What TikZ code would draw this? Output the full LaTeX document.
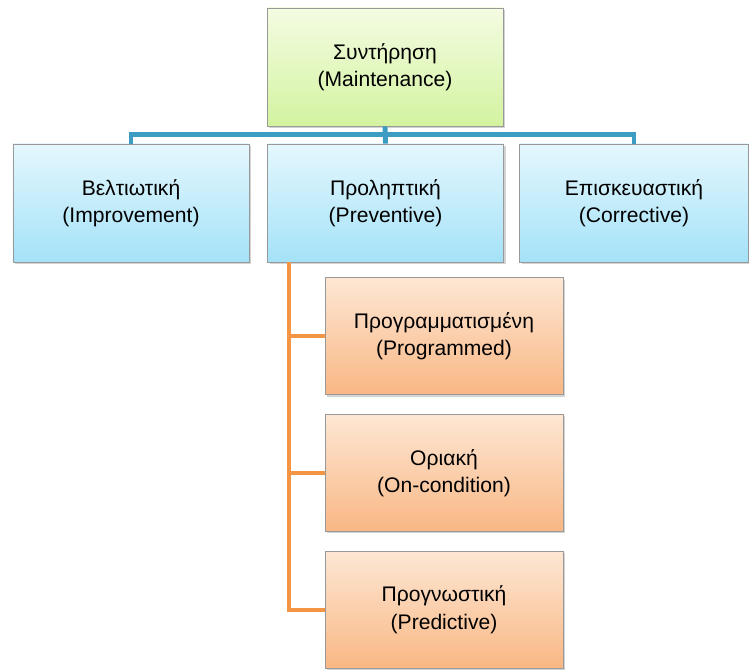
\documentclass[tikz,border=0pt]{standalone}
\usepackage{fontspec}
\setmainfont{Liberation Sans}
\usepackage{xcolor}
\usetikzlibrary{positioning, shadows, calc}

\definecolor{greentop}{HTML}{F4FCE2}
\definecolor{greenbot}{HTML}{D3F3A0}
\definecolor{bluetop}{HTML}{E4F7FD}
\definecolor{bluebot}{HTML}{A4E2F8}
\definecolor{orangetop}{HTML}{FDE7D4}
\definecolor{orangebot}{HTML}{F9B784}
\definecolor{busblue}{HTML}{3C9CC2}
\definecolor{busorange}{HTML}{F39543}

\begin{document}
\begin{tikzpicture}[
  block/.style={rectangle, draw=black!40, line width=0.5pt,
    minimum width=4.72cm, minimum height=2.36cm, align=center,
    font=\fontsize{12}{15.5}\selectfont, inner sep=2pt,
    drop shadow={shadow xshift=1.2pt, shadow yshift=-1.2pt, opacity=0.35}},
  rootbox/.style={block, top color=greentop, bottom color=greenbot},
  kindbox/.style={block, top color=bluetop, bottom color=bluebot},
  subbox/.style={block, minimum width=4.76cm, minimum height=2.34cm,
    top color=orangetop, bottom color=orangebot},
  bluebus/.style={line width=2.8pt, busblue},
  orangebus/.style={line width=2pt, busorange},
]
\useasboundingbox (0,0) rectangle (14.98,-13.4);
% ====== ROOT ======
\node[rootbox] (maint) at (7.7, -1.34) {Συντήρηση\\(Maintenance)};
%
% ====== MAIN KINDS ======
\node[kindbox] (impr) at (2.62, -4.06) {Βελτιωτική\\(Improvement)};
\node[kindbox] (prev) at (7.71, -4.06) {Προληπτική\\(Preventive)};
\node[kindbox, minimum width=4.58cm] (corr) at (12.68, -4.06)
  {Επισκευαστική\\(Corrective)};
%
% ====== PREVENTIVE SUBTYPES ======
\node[subbox] (prog) at (8.88, -6.72) {Προγραμματισμένη\\(Programmed)};
\node[subbox, below=0.38cm of prog] (cond) {Οριακή\\(On-condition)};
\node[subbox, below=0.38cm of cond] (pred) {Προγνωστική\\(Predictive)};
%
% ====== CONNECTORS ======
\coordinate (bus) at ($(maint.south) + (0,-0.16)$);
\draw[bluebus] (impr.north) |- (bus) -| (corr.north);
\draw[bluebus] (maint.south) -- (prev.north);
\coordinate (spine) at ([xshift=0.44cm]prev.south west);
\draw[orangebus] (spine) |- (prog.west);
\draw[orangebus] (spine) |- (cond.west);
\draw[orangebus] (spine) |- (pred.west);
\end{tikzpicture}
\end{document}
